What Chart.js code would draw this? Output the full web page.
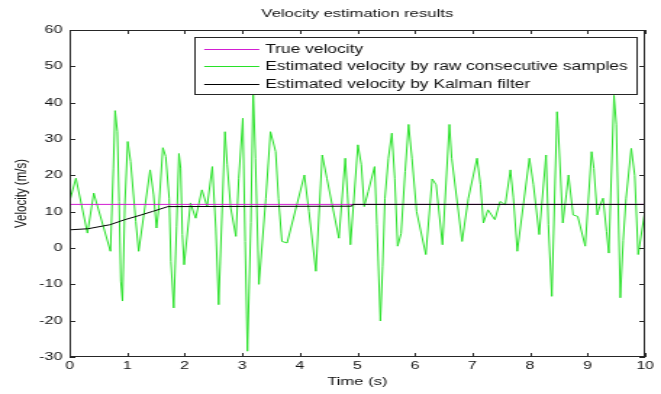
<!DOCTYPE html>
<html>
<head>
<meta charset="utf-8">
<script src="https://cdn.jsdelivr.net/npm/chart.js@4"></script>
<style>
  html, body { margin: 0; padding: 0; background: #fff; }
  /* the source figure is stretched sideways, so the canvas is drawn narrow and widened here */
  #chart { display: block; width: 661px !important; height: 394px !important; }
</style>
</head>
<body>
<canvas id="chart" width="456" height="394"></canvas>
<script>
const seriesLabels = ['True velocity', 'Estimated velocity by raw consecutive samples', 'Estimated velocity by Kalman filter'];
const seriesColors = ['rgb(210, 30, 210)', 'rgb(40, 225, 40)', 'rgb(0, 0, 0)'];

const xTicks = [0, 1, 2, 3, 4, 5, 6, 7, 8, 9, 10];
const yTicks = [-30, -20, -10, 0, 10, 20, 30, 40, 50, 60];

const trueTime = [0, 10];
const trueVel = [12, 12];

const rawTime = [0, 0.11, 0.31, 0.42, 0.71, 0.76, 0.79, 0.83, 0.86, 0.89,
	0.92, 0.96, 1.01, 1.06, 1.15, 1.20, 1.40, 1.46, 1.51, 1.55,
	1.62, 1.67, 1.73, 1.76, 1.81, 1.86, 1.90, 1.93, 1.96, 1.99,
	2.10, 2.19, 2.30, 2.39, 2.48, 2.54, 2.59, 2.70, 2.74, 2.80,
	2.89, 2.94, 3.01, 3.05, 3.09, 3.15, 3.19, 3.23, 3.29, 3.41,
	3.49, 3.58, 3.63, 3.69, 3.78, 4.08, 4.16, 4.28, 4.39, 4.47,
	4.68, 4.79, 4.83, 4.88, 5.01, 5.07, 5.12, 5.19, 5.30, 5.34,
	5.40, 5.44, 5.48, 5.54, 5.60, 5.65, 5.70, 5.76, 5.83, 5.89,
	5.95, 6.03, 6.19, 6.30, 6.37, 6.48, 6.60, 6.64, 6.82, 6.93,
	7.08, 7.14, 7.19, 7.27, 7.39, 7.48, 7.57, 7.66, 7.71, 7.78,
	7.99, 8.06, 8.16, 8.28, 8.32, 8.38, 8.47, 8.49, 8.57, 8.63,
	8.67, 8.75, 8.83, 8.96, 9.07, 9.11, 9.17, 9.21, 9.27, 9.33,
	9.37, 9.46, 9.50, 9.57, 9.62, 9.67, 9.76, 9.82, 9.88, 10.0];
const rawVel = [12.8, 19.2, 4.1, 15.1, -0.9, 22, 37.8, 32, 12.8, -9.1,
	-14.6, 11.9, 29.3, 23.8, 7.3, -0.9, 21.5, 14.6, 5.5, 11,
	27.6, 25.2, 13.7, -3.7, -16.5, 6, 26, 22, 3.7, -4.6,
	12.4, 8.2, 16, 11.4, 22.4, 5.5, -15.6, 32, 22.9, 11,
	3.2, 19.2, 35.7, 1.8, -28.4, 7, 43.9, 24.7, -10, 13.7,
	32, 26.5, 13.7, 1.8, 1.4, 20.1, 10, -6.4, 25.6, 19.2,
	2.7, 24.7, 14.6, 0.9, 28.4, 22.9, 11.4, 15.6, 22.4, 6.4,
	-20.1, -5, 13.7, 24.7, 31.6, 19.2, 0.5, 4, 21, 34,
	24.7, 10, -1.8, 19, 17.4, 0.9, 34, 24.7, 1.8, 13.7,
	24.7, 17.4, 6.9, 10.5, 7.8, 12.8, 11.9, 21.5, 14, -0.9,
	24.7, 17.4, 3.7, 25.6, 6.4, -13.3, 37.5, 33, 6.9, 14.6,
	20.1, 9.1, 8.7, 0.5, 26.5, 21.9, 9.1, 11.4, 13.7, 4.6,
	-1.4, 42, 33.9, -13.7, 2, 13.7, 27.4, 20, -1.8, 10.5];

const kalmanTime = [0, 0.32, 0.70, 0.96, 1.16, 1.45, 1.71, 4.90, 4.92, 10];
const kalmanVel = [5.0, 5.3, 6.4, 7.8, 8.7, 10.1, 11.4, 11.5, 12, 12];

const FONT = '"Liberation Sans", Arial, Helvetica, sans-serif';

function toPoints(xs, ys) {
	return xs.map((x, i) => ({x: x, y: ys[i]}));
}

// box round the axes, ticks pointing inwards on all four sides
const axesBox = {
	id: 'axesBox',
	afterDatasetsDraw(chart) {
		const {ctx, chartArea: a, scales} = chart;
		const len = 4;
		ctx.save();
		ctx.strokeStyle = '#262626';
		ctx.lineWidth = 1;
		ctx.beginPath();
		scales.x.ticks.forEach(t => {
			let px = Math.round(scales.x.getPixelForValue(t.value)) + 0.5;
			ctx.moveTo(px, a.bottom); ctx.lineTo(px, a.bottom - len);
			ctx.moveTo(px, a.top); ctx.lineTo(px, a.top + len);
		});
		scales.y.ticks.forEach(t => {
			let py = Math.round(scales.y.getPixelForValue(t.value)) + 0.5;
			ctx.moveTo(a.left, py); ctx.lineTo(a.left + len, py);
			ctx.moveTo(a.right, py); ctx.lineTo(a.right - len, py);
		});
		ctx.stroke();
		ctx.strokeRect(Math.round(a.left) + 0.5, Math.round(a.top) + 0.5,
			Math.round(a.right - a.left) - 1, Math.round(a.bottom - a.top) - 1);

		// title over the axes
		ctx.fillStyle = '#111';
		ctx.font = '11.5px ' + FONT;
		ctx.textAlign = 'center';
		ctx.textBaseline = 'middle';
		ctx.fillText('Velocity estimation results', (a.left + a.right) / 2, 14);

		// legend, top right inside the axes
		ctx.font = '12px ' + FONT;
		const textW = Math.max(...seriesLabels.map(l => ctx.measureText(l).width));
		const right = a.right - 6;
		const top = a.top + 7;
		const left = right - (7 + 38 + 4 + textW + 6);
		const rowH = 17.5;
		const h = 57;
		ctx.fillStyle = '#fff';
		ctx.fillRect(left, top, right - left, h);
		ctx.strokeStyle = '#262626';
		ctx.strokeRect(Math.round(left) + 0.5, Math.round(top) + 0.5, Math.round(right - left), h);
		ctx.textAlign = 'left';
		seriesLabels.forEach((label, i) => {
			let cy = Math.round(top + 11.5 + i * rowH) + 0.5;
			ctx.beginPath();
			ctx.strokeStyle = seriesColors[i];
			ctx.moveTo(left + 7, cy);
			ctx.lineTo(left + 45, cy);
			ctx.stroke();
			ctx.fillStyle = '#111';
			ctx.fillText(label, left + 49, cy + 0.5);
		});
		ctx.restore();
	}
};

const ctx = document.getElementById('chart').getContext('2d');
const myChart = new Chart(ctx, {
	type: 'line',
	data: {
		datasets: [{
			label: seriesLabels[0],
			data: toPoints(trueTime, trueVel),
			borderColor: seriesColors[0],
			order: 2
		}, {
			label: seriesLabels[1],
			data: toPoints(rawTime, rawVel),
			borderColor: seriesColors[1],
			order: 3
		}, {
			label: seriesLabels[2],
			data: toPoints(kalmanTime, kalmanVel),
			borderColor: seriesColors[2],
			order: 1
		}]
	},
	options: {
		responsive: false,
		animation: false,
		devicePixelRatio: 1,
		layout: { padding: { top: 30, right: 11, left: 0, bottom: 0 } },
		elements: {
			point: { radius: 0 },
			line: { borderWidth: 1, tension: 0 }
		},
		plugins: {
			legend: { display: false },
			title: { display: false },
			tooltip: { enabled: false }
		},
		scales: {
			x: {
				type: 'linear',
				min: 0,
				max: 10,
				afterBuildTicks: scale => { scale.ticks = xTicks.map(v => ({value: v})); },
				afterFit: scale => { scale.height = 37; },
				grid: { display: false, drawTicks: false },
				border: { display: false },
				ticks: {
					color: '#111',
					padding: 2,
					maxRotation: 0,
					autoSkip: false,
					font: { family: FONT, size: 11 }
				},
				title: {
					display: true,
					text: 'Time (s)',
					color: '#111',
					padding: { top: 0, bottom: 5 },
					font: { family: FONT, size: 11.5 }
				}
			},
			y: {
				min: -30,
				max: 60,
				afterBuildTicks: scale => { scale.ticks = yTicks.map(v => ({value: v})); },
				afterFit: scale => { scale.width = 48; },
				grid: { display: false, drawTicks: false },
				border: { display: false },
				ticks: {
					color: '#111',
					padding: 5,
					autoSkip: false,
					font: { family: FONT, size: 11 }
				},
				title: {
					display: true,
					text: 'Velocity (m/s)',
					color: '#111',
					padding: { top: 8, bottom: 0 },
					font: { family: FONT, size: 11.5 }
				}
			}
		}
	},
	plugins: [axesBox]
});
</script>
</body>
</html>
